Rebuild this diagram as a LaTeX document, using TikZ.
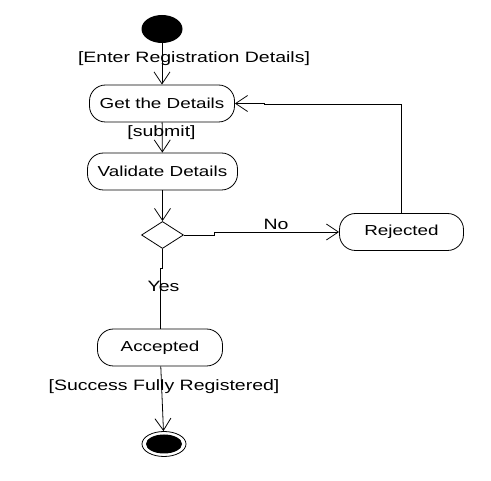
\documentclass[tikz,border=0pt]{standalone}
\usepackage{fontspec}
\newfontfamily\umlfont{Liberation Sans}[FakeStretch=1.3]
\usetikzlibrary{shapes.geometric, arrows.meta}

\begin{document}
\begin{tikzpicture}[x=1pt, y=-1pt, line width=0.8pt,
    >={Straight Barb[length=12pt,width=16pt]},
    activity/.style={draw, rounded corners=16pt, minimum height=37pt, inner sep=0pt, font=\umlfont\fontsize{14.5}{16}\selectfont},
    guard/.style={anchor=base, inner sep=0pt, font=\umlfont\fontsize{15}{17}\selectfont}]
    \useasboundingbox (0,0) rectangle (491,481);

    \node[ellipse, fill=black, minimum width=41pt, minimum height=28pt, inner sep=0pt] (start) at (162,29) {};
    \node[activity, minimum width=145pt] (getd) at (162,103.5) {Get the Details};
    \node[activity, minimum width=150pt] (valid) at (162.5,171.5) {Validate Details};
    \node[diamond, draw, minimum width=42pt, minimum height=27pt, inner sep=0pt] (dec) at (162.5,235) {};
    \node[activity, minimum width=124pt] (rej) at (401.5,232) {Rejected};
    \node[activity, minimum width=125pt] (acc) at (160,347.5) {Accepted};
    \node[ellipse, draw, minimum width=44pt, minimum height=25pt, inner sep=0pt] (stop) at (164,444) {};
    \node[ellipse, fill=black, minimum width=36pt, minimum height=19pt, inner sep=0pt] (stopdot) at (stop) {};

    \draw[->] (start) -- (getd);
    \draw[->] (getd) -- (valid);
    \draw[->] (valid) -- (dec);
    \draw[->] (dec.east) -- ++(30,0) |- (rej.west);
    \draw[->] (rej.north) -- ++(0,-108.5) -- ++(-137,0) |- (getd.east);
    \draw (dec.south) -- ++(0,20) -| (acc.north);
    \draw[->] (acc) -- (stop);

    % guards on the flows
    \node[guard] (enter) at (194,63) {[Enter Registration Details]};
    \node[guard] (submit) at (161.5,137) {[submit]};
    \node[guard] (no) at (276,230) {No};
    \node[guard] (yes) at (163.5,291.5) {Yes};
    \node[guard] (success) at (164,391) {[Success Fully Registered]};
\end{tikzpicture}
\end{document}
